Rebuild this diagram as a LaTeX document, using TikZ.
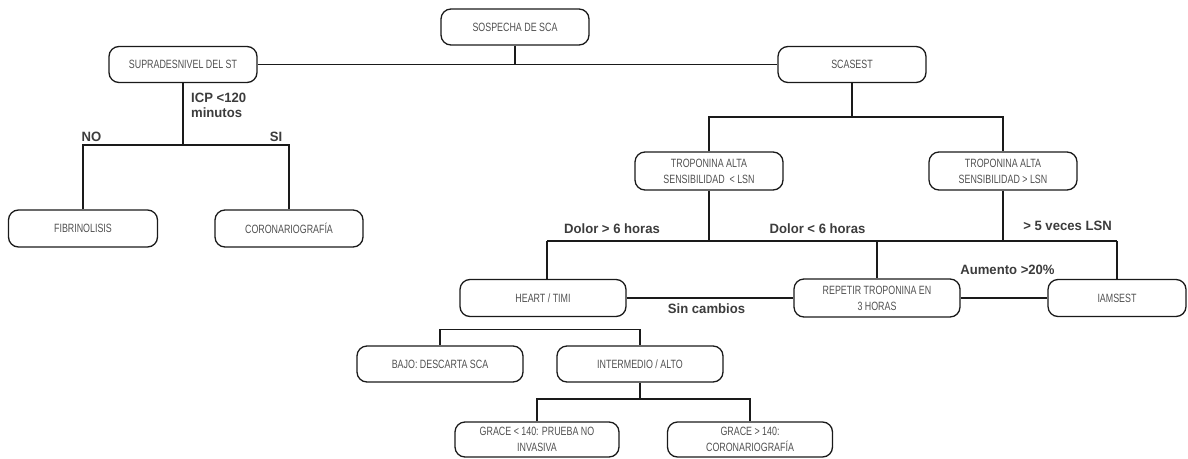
\documentclass[tikz,border=0pt]{standalone}
\usepackage{fontspec}
\setmainfont{Liberation Sans}
\newfontfamily\boxfont[FakeStretch=0.74]{Liberation Sans}
\newfontfamily\lblfont[FakeStretch=0.97]{Liberation Sans}
\definecolor{boxtext}{HTML}{505050}
\definecolor{lbltext}{HTML}{3C3C3C}
\definecolor{wire}{HTML}{1A1A1A}
\begin{document}
\begin{tikzpicture}[x=1pt,y=-1pt,
  flowbox/.style={draw=wire, line width=1.3pt, rounded corners=10pt,
    minimum height=36pt, inner sep=2pt, align=center,
    font=\boxfont\fontsize{12}{16}\selectfont, text=boxtext},
  narrowbox/.style={flowbox, minimum width=148pt},
  widebox/.style={flowbox, minimum width=166pt},
  cond/.style={font=\lblfont\bfseries\fontsize{13.5}{15}\selectfont, text=lbltext, inner sep=0pt},
  wireline/.style={draw=wire, line width=1.3pt}]
\useasboundingbox (0,0) rectangle (1188,458);

% boxes
\node[narrowbox] (sos) at (515,27) {SOSPECHA DE SCA};
\node[narrowbox] (sup) at (183,64.5) {SUPRADESNIVEL DEL ST};
\node[narrowbox] (sca) at (852,64.5) {SCASEST};
\node[narrowbox, minimum height=38pt] (tl) at (709,171) {TROPONINA ALTA\\SENSIBILIDAD\ \ < LSN};
\node[narrowbox, minimum height=38pt] (th) at (1003,171) {TROPONINA ALTA\\SENSIBILIDAD > LSN};
\node[narrowbox, minimum width=149pt, minimum height=37pt] (fib) at (83,228.5) {FIBRINOLISIS};
\node[narrowbox, minimum height=37pt] (cor) at (289,228.5) {CORONARIOGRAFÍA};
\node[widebox, minimum height=37pt] (heart) at (543,298) {HEART / TIMI};
\node[widebox, minimum height=38pt] (rep) at (877,298) {REPETIR TROPONINA EN\\3 HORAS};
\node[flowbox, minimum width=138pt, minimum height=37pt] (iam) at (1117,298) {IAMSEST};
\node[widebox] (bajo) at (440,364) {BAJO: DESCARTA SCA};
\node[widebox] (inter) at (640,364) {INTERMEDIO / ALTO};
\node[flowbox, minimum width=164pt, minimum height=35pt] (g1) at (537,439.5) {GRACE < 140: PRUEBA NO\\INVASIVA};
\node[flowbox, minimum width=165pt, minimum height=35pt] (g2) at (750,439.5) {GRACE > 140:\\CORONARIOGRAFÍA};

% junction points
\coordinate (jst) at (183,145);
\coordinate (jnst) at (852,117);
\coordinate (jdolor) at (547,241);
\coordinate (jiam) at (1117,241);
\coordinate (jrisk) at (540,329.5);
\coordinate (jgrace) at (640,399);

% connectors
\draw[wireline] (sup.east) -- (sca.west);
\draw[wireline] (sos.south) -- (sos.south |- sup.east);
\draw[wireline] (sup.south) -- (jst);
\draw[wireline] (fib.north) |- (jst) -| (cor.north);
\draw[wireline] (sca.south) -- (jnst);
\draw[wireline] (tl.north) |- (jnst) -| (th.north);
\draw[wireline] (jdolor) -- (jiam);
\draw[wireline] (tl.south) -- (tl.south |- jdolor);
\draw[wireline] (th.south) -- (th.south |- jdolor);
\draw[wireline] (jdolor) -- (jdolor |- heart.north);
\draw[wireline] (rep.north |- jdolor) -- (rep.north);
\draw[wireline] (jiam) -- (iam.north);
\draw[wireline] (heart.east) -- (rep.west);
\draw[wireline] (rep.east) -- (iam.west);
\draw[wireline] (bajo.north) |- (jrisk) -| (inter.north);
\draw[wireline] (inter.south) -- (jgrace);
\draw[wireline] (g1.north) |- (jgrace) -| (g2.north);

% branch conditions
\node[cond, anchor=west, align=left] (icp) at (191,105.5) {ICP <120\\minutos};
\node[cond] (no) at (91.5,137) {NO};
\node[cond] (si) at (276,137) {SI};
\node[cond] (dmas) at (612,229) {Dolor > 6 horas};
\node[cond] (dmenos) at (817.5,229) {Dolor < 6 horas};
\node[cond] (cinco) at (1067.5,226) {> 5 veces LSN};
\node[cond] (aum) at (1007.5,270) {Aumento >20\%};
\node[cond] (sinc) at (706.5,309) {Sin cambios};
\end{tikzpicture}
\end{document}
